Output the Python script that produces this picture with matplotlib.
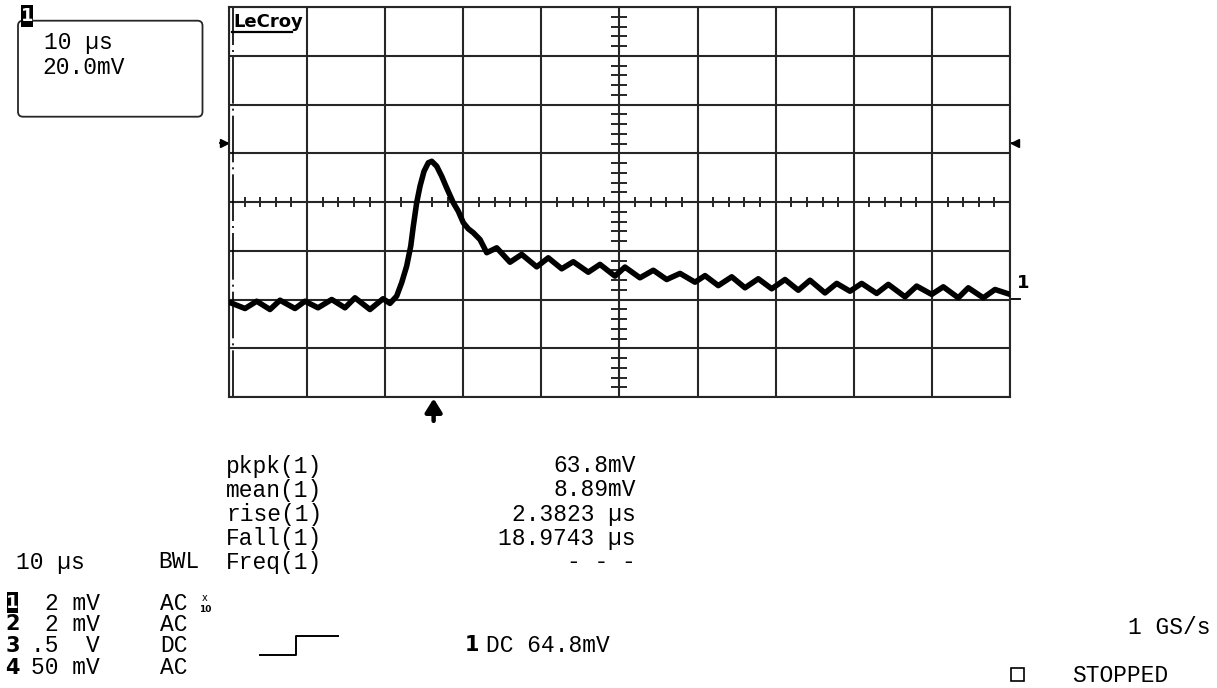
import matplotlib.pyplot as plt
import numpy as np
from matplotlib.patches import FancyBboxPatch, Rectangle

# --- scope settings ---
time_per_div = 10.0     # us / div
volt_per_div = 20.0     # mV / div
n_xdiv = 10
n_ydiv = 8

trig_time = 26.2        # us, trigger arrow under the grid
trig_level = 24.4       # mV, side markers
ground_level = -39.6    # mV, channel 1 marker

# --- channel 1 trace ---
trace_t = [0.0, 2.05, 3.55, 5.25, 6.53, 8.45, 9.73, 11.40, 13.15, 14.85,
           16.13, 18.05, 19.72, 20.61, 21.47, 22.11, 22.75, 23.27, 23.60, 24.03,
           24.46, 24.97, 25.52, 25.96, 26.59, 27.23, 27.87, 28.72, 29.36, 30.00,
           30.64, 31.28, 32.14, 33.00, 34.28, 35.98, 37.48, 39.40, 40.88, 42.60,
           44.08, 46.00, 47.50, 49.42, 50.70, 52.62, 54.33, 56.04, 57.75, 59.67,
           60.95, 62.65, 64.37, 66.07, 67.77, 69.49, 71.19, 72.89, 74.39, 76.31,
           77.81, 79.51, 81.01, 82.93, 84.42, 86.56, 88.05, 89.97, 91.46, 93.38,
           94.66, 96.58, 98.08, 100.0]
trace_mv = [-41.1, -43.7, -40.7, -44.1, -40.3, -43.7, -40.7, -43.4, -40.0, -43.4,
            -39.3, -44.1, -39.7, -41.6, -38.6, -33.1, -26.3, -18.1, -9.9, -0.3,
            6.5, 12.6, 16.1, 16.7, 14.7, 10.6, 5.8, -0.3, -3.8, -8.5,
            -11.0, -12.6, -15.4, -20.8, -18.8, -24.7, -21.5, -26.6, -22.9, -27.4,
            -24.5, -28.8, -25.6, -30.4, -26.7, -31.1, -28.0, -31.8, -29.3, -32.9,
            -30.2, -34.3, -30.7, -35.2, -31.5, -35.6, -31.8, -36.2, -32.1, -37.3,
            -33.4, -36.6, -33.4, -37.5, -33.8, -38.9, -34.5, -37.9, -34.8, -39.3,
            -35.2, -39.3, -35.9, -37.9]

# --- readouts ---
meas_names = ['pkpk(1)', 'mean(1)', 'rise(1)', 'Fall(1)', 'Freq(1)']
meas_values = ['63.8mV', '8.89mV', '2.3823 µs', '18.9743 µs', '- - -']

chan_ids = ['1', '2', '3', '4']
chan_scale = ['2 mV', '2 mV', '.5  V', '50 mV']
chan_coupling = ['AC', 'AC', 'DC', 'AC']

MONO = 'Liberation Mono'
FS = 16.5
GRID = '#262626'
W, H = 1217, 688

fig = plt.figure(figsize=(W / 100, H / 100), dpi=100)
fig.patch.set_facecolor('white')

# grid area in pixels: x 229..1010, y 7..397
gl, gt, gr, gb = 229, 7, 1010, 397
ax = fig.add_axes([gl / W, 1 - gb / H, (gr - gl) / W, (gb - gt) / H])
ax.set_xlim(0, n_xdiv * time_per_div)
ax.set_ylim(-n_ydiv / 2 * volt_per_div, n_ydiv / 2 * volt_per_div)
ax.set_xticks(np.arange(0, n_xdiv + 1) * time_per_div)
ax.set_yticks(np.arange(-n_ydiv / 2, n_ydiv / 2 + 1) * volt_per_div)
ax.tick_params(length=0, labelbottom=False, labelleft=False)
ax.grid(True, color=GRID, lw=1.5)
for s in ax.spines.values():
    s.set_color(GRID)
    s.set_linewidth(1.5)

# minor ticks on the centre cross
xmid = n_xdiv / 2 * time_per_div
sub_t = [t for t in np.arange(0, 100.1, time_per_div / 5) if t % time_per_div != 0]
sub_v = [v for v in np.arange(-80, 80.1, volt_per_div / 5) if v % volt_per_div != 0]
ax.plot(sub_t, np.zeros(len(sub_t)), ls='none', marker='|', ms=7.5, mew=1.4, color=GRID, zorder=2)
ax.plot(np.full(len(sub_v), xmid), sub_v, ls='none', marker='_', ms=12, mew=1.4, color=GRID, zorder=2)

# dash-dot line just inside the left edge
ax.axvline(0.45, color='black', lw=1.2, ls=(0, (28, 3, 1.2, 3)), zorder=2)

# the trace
ax.plot(trace_t, trace_mv, color='black', lw=4.0, solid_joinstyle='round',
        solid_capstyle='round', zorder=4)

# trigger level markers on both sides
ax.plot([-1.2, -0.1], [trig_level, trig_level], color='black', lw=1.3, clip_on=False)
ax.plot([-0.6], [trig_level], marker='>', ms=6, color='black', clip_on=False)
ax.plot([100.1, 101.2], [trig_level, trig_level], color='black', lw=1.3, clip_on=False)
ax.plot([100.7], [trig_level], marker='<', ms=6, color='black', clip_on=False)

# channel 1 ground marker
ax.plot([100.1, 101.3], [ground_level, ground_level], color='black', lw=1.3, clip_on=False)

# trigger time arrow
ax.annotate('', xy=(trig_time, -80.6), xytext=(trig_time, -89.8),
            arrowprops=dict(arrowstyle='-|>,head_width=0.25,head_length=0.4',
                            lw=3.2, color='black', mutation_scale=20,
                            shrinkA=0, shrinkB=0),
            annotation_clip=False)

# --- overlay in pixel coordinates for the screen texts ---
ov = fig.add_axes([0, 0, 1, 1])
ov.set_xlim(0, W)
ov.set_ylim(H, 0)
ov.axis('off')
ov.patch.set_alpha(0)


def txt(x, y, s, size=FS, ha='left', weight='normal', family=MONO, color='black', z=3):
    ov.text(x, y, s, ha=ha, va='center', fontsize=size, fontweight=weight,
            family=family, color=color, zorder=z)


# LeCroy logo
txt(233, 22, 'LeCroy', size=13, weight='bold', family='DejaVu Sans')
ov.plot([232, 292], [32, 32], color='black', lw=1.6)
txt(1017, 283, '1', size=13, weight='bold', family='DejaVu Sans')

# channel box top-left
ov.add_patch(FancyBboxPatch((18, 20.7), 184.5, 96, boxstyle='round,pad=0,rounding_size=5',
                            fc='none', ec=GRID, lw=1.3))
ov.add_patch(Rectangle((21, 5), 12, 22, fc='black', ec='none', zorder=5))
txt(27, 16, '1', size=13, ha='center', weight='bold', family='DejaVu Sans', color='white', z=6)
txt(44, 43, '10 µs')
txt(42, 67, '20.0mV')

# measurements
for i, (name, val) in enumerate(zip(meas_names, meas_values)):
    y = 466 + i * 24
    txt(226, y, name)
    txt(636, y, val, ha='right')
txt(16, 562, '10 µs')
txt(200, 562, 'BWL', ha='right')

# channel settings
for i, (cid, sc, cp) in enumerate(zip(chan_ids, chan_scale, chan_coupling)):
    y = 603 + i * 21.5
    if i == 0:
        ov.add_patch(Rectangle((7, y - 11), 11, 21, fc='black', ec='none', zorder=5))
        txt(12.5, y, cid, size=13, ha='center', weight='bold', family='DejaVu Sans',
            color='white', z=6)
    else:
        txt(12.5, y, cid, size=15, ha='center', weight='bold', family='DejaVu Sans')
    txt(100, y, sc, ha='right')
    txt(160, y, cp)
txt(205, 598, 'x', size=7, ha='center', family='DejaVu Sans')
txt(205, 609, '10', size=6.5, ha='center', weight='bold', family='DejaVu Sans')

# trigger setup
ov.plot([260, 296, 296, 338], [655, 655, 636, 636], color='black', lw=1.4)
txt(472, 645, '1', size=15, ha='center', weight='bold', family='DejaVu Sans')
txt(486, 645, 'DC 64.8mV')

# timebase / status
txt(1211, 628, '1 GS/s', ha='right')
ov.add_patch(Rectangle((1011, 668), 13, 13, fc='none', ec='black', lw=1.2))
txt(1072, 675, 'STOPPED')

fig.savefig('out.png', dpi=100, facecolor='white')
